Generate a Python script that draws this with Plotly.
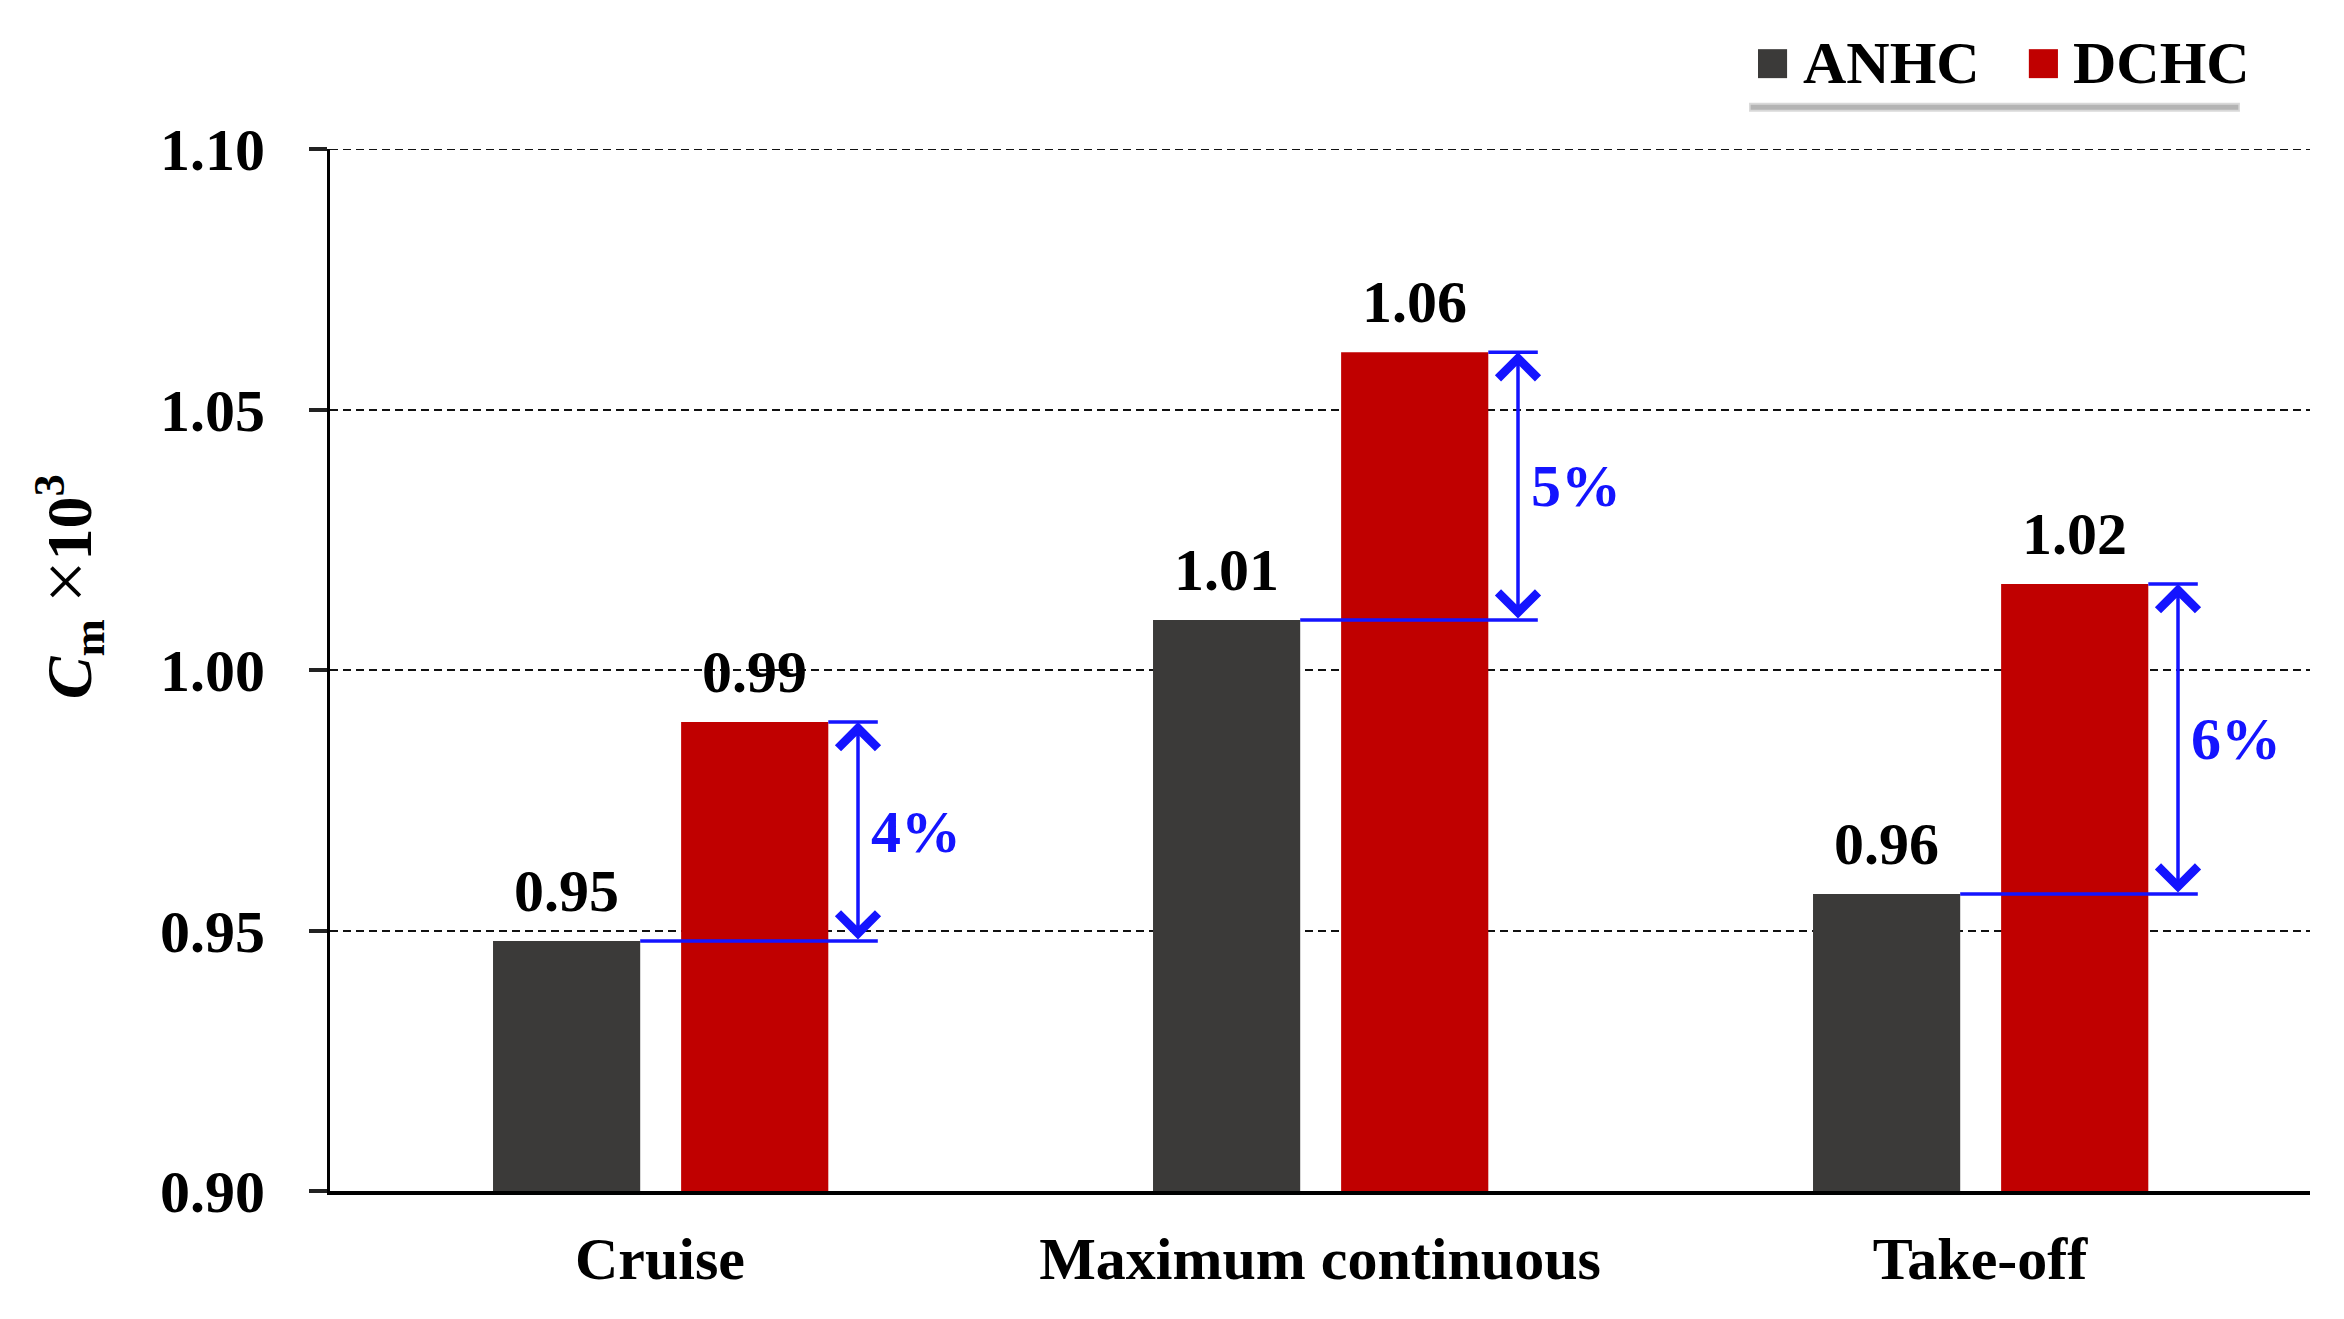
import plotly.graph_objects as go

categories = ["Cruise", "Maximum continuous", "Take-off"]
anhc = [0.948, 1.0096, 0.957]
dchc = [0.990, 1.061, 1.0165]
anhc_labels = ["0.95", "1.01", "0.96"]
dchc_labels = ["0.99", "1.06", "1.02"]
pct_labels = ["4%", "5%", "6%"]
y_ticks = [0.90, 0.95, 1.00, 1.05, 1.10]
y_ticktext = ["0.90", "0.95", "1.00", "1.05", "1.10"]

FONT = "Liberation Serif, Times New Roman, serif"
C_ANHC = "#3b3a39"
C_DCHC = "#c00000"
BLUE = "#1414ff"
FS = 60

BW = 0.223
OFF_A = -0.253
OFF_D = 0.032
ARROW_X = 0.30
LINE_END = 0.33
PCT_X = 0.388

fig = go.Figure()
fig.add_trace(go.Bar(x=categories, y=anhc, name="ANHC", marker_color=C_ANHC,
                     width=BW, offset=OFF_A, marker_line_width=0, showlegend=False))
fig.add_trace(go.Bar(x=categories, y=dchc, name="DCHC", marker_color=C_DCHC,
                     width=BW, offset=OFF_D, marker_line_width=0, showlegend=False))

annotations = []
shapes = []
# top gridline (at range edge, not drawn by plotly)
shapes.append(dict(type="line", xref="paper", yref="y", x0=0, x1=1,
                   y0=y_ticks[-1], y1=y_ticks[-1],
                   line=dict(color="#111", width=2, dash="8px,5px"), layer="below"))
for i in range(len(categories)):
    annotations.append(dict(x=i + OFF_A + BW / 2, y=anhc[i], xref="x", yref="y",
                            text=anhc_labels[i], showarrow=False, yanchor="bottom",
                            yshift=15, font=dict(size=FS, color="black", family=FONT, weight="bold")))
    annotations.append(dict(x=i + OFF_D + BW / 2, y=dchc[i], xref="x", yref="y",
                            text=dchc_labels[i], showarrow=False, yanchor="bottom",
                            yshift=15, font=dict(size=FS, color="black", family=FONT, weight="bold")))
    shapes.append(dict(type="line", xref="x", yref="y", x0=i + OFF_A + BW, x1=i + LINE_END,
                       y0=anhc[i], y1=anhc[i], line=dict(color=BLUE, width=3.5), layer="above"))
    shapes.append(dict(type="line", xref="x", yref="y", x0=i + OFF_D + BW, x1=i + LINE_END,
                       y0=dchc[i], y1=dchc[i], line=dict(color=BLUE, width=3.5), layer="above"))
    annotations.append(dict(x=i + ARROW_X, y=dchc[i], ax=i + ARROW_X, ay=anhc[i],
                            xref="x", yref="y", axref="x", ayref="y", text="",
                            showarrow=True, arrowside="end+start", arrowhead=4,
                            startarrowhead=4, arrowsize=2.2, startarrowsize=2.2,
                            arrowwidth=3.5, arrowcolor=BLUE))
    annotations.append(dict(x=i + PCT_X, y=(anhc[i] + dchc[i]) / 2, xref="x", yref="y",
                            text=pct_labels[i], showarrow=False, xanchor="center",
                            yanchor="middle",
                            font=dict(size=FS, color=BLUE, family=FONT, weight="bold")))

# y-axis title
annotations.append(dict(x=-0.132, y=0.58, xref="paper", yref="paper",
                        text="<i>C</i><sub>m</sub> <span style='font-size:76px;font-weight:normal'>×</span>10<sup>3</sup>",
                        textangle=-90,
                        showarrow=False, xanchor="center", yanchor="middle",
                        font=dict(size=64, color="black", family=FONT, weight="bold")))

# manual legend
legend_items = [("ANHC", C_ANHC, 0.7212), ("DCHC", C_DCHC, 0.858)]
for name, col, x0 in legend_items:
    shapes.append(dict(type="rect", xref="paper", yref="paper", x0=x0, x1=x0 + 0.0147,
                       y0=1.068, y1=1.0958, fillcolor=col, line=dict(width=0)))
    annotations.append(dict(x=x0 + 0.0215, y=1.0824, xref="paper", yref="paper",
                            text=name, showarrow=False, xanchor="left", yanchor="middle",
                            font=dict(size=FS, color="black", family=FONT, weight="bold")))
shapes.append(dict(type="line", xref="paper", yref="paper", x0=0.7167, x1=0.9646,
                   y0=1.040, y1=1.040, line=dict(color="#d8d8d8", width=9)))
shapes.append(dict(type="line", xref="paper", yref="paper", x0=0.7175, x1=0.9638,
                   y0=1.040, y1=1.040, line=dict(color="#b4b4b4", width=5)))

fig.update_layout(
    width=2336, height=1311,
    margin=dict(l=322, r=34, t=141, b=128),
    paper_bgcolor="white", plot_bgcolor="white",
    barmode="overlay",
    font=dict(family=FONT, size=FS, color="black", weight="bold"),
    annotations=annotations, shapes=shapes,
    showlegend=False,
)
fig.update_xaxes(range=[-0.5, 2.5], showline=True, linecolor="black", linewidth=4,
                 ticks="", showgrid=False, ticklabelstandoff=12,
                 tickfont=dict(size=FS, family=FONT, color="black", weight="bold"))
fig.update_yaxes(range=[0.90, 1.10], tickvals=y_ticks, ticktext=y_ticktext,
                 showline=True, linecolor="black", linewidth=3,
                 ticks="outside", ticklen=18, tickwidth=4, tickcolor="#222",
                 showgrid=True, gridcolor="#111", gridwidth=2, griddash="8px,5px",
                 ticklabelstandoff=32, zeroline=False,
                 tickfont=dict(size=FS, family=FONT, color="black", weight="bold"))

fig.write_html("out.html")
